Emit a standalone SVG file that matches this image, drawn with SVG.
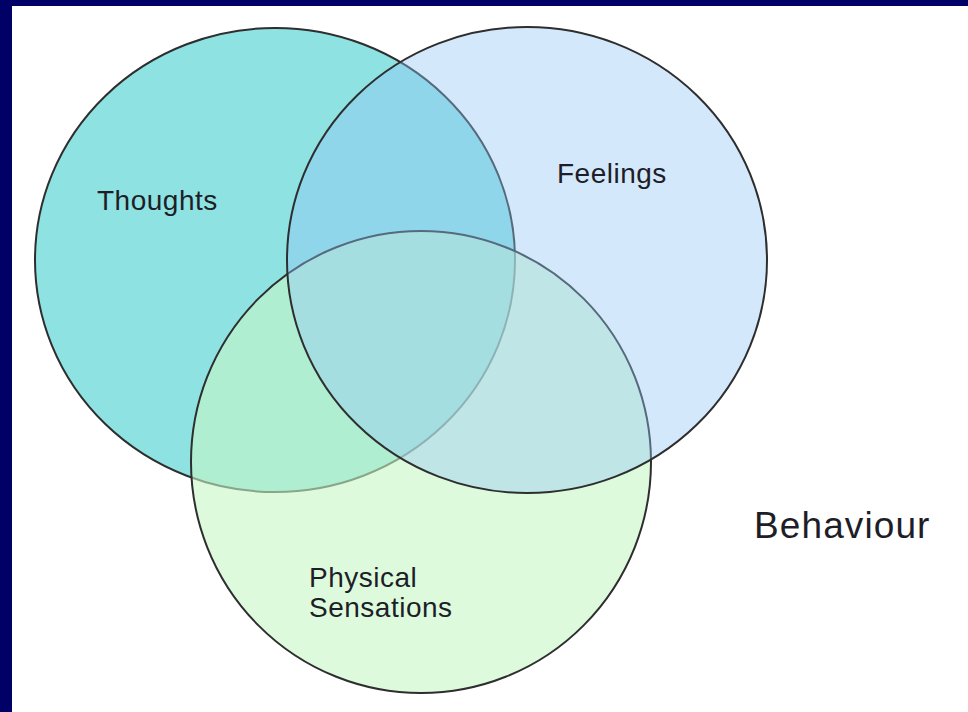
<svg xmlns="http://www.w3.org/2000/svg" width="968" height="712" viewBox="0 0 968 712">
  <style>
    .set { stroke: #2e2e2e; stroke-width: 2; }
    .label { font-family: "Liberation Sans", Arial, sans-serif; fill: #1e1e28; font-size: 28px; letter-spacing: 0.5px; }
    .big { font-size: 37px; letter-spacing: 1.1px; }
  </style>
  <!-- frame -->
  <rect x="0" y="0" width="968" height="712" fill="#ffffff"/>
  <rect x="0" y="0" width="968" height="6" fill="#000066"/>
  <rect x="0" y="0" width="12" height="712" fill="#000066"/>

  <g id="thoughts">
    <ellipse class="set" cx="275" cy="260" rx="240" ry="232" fill="#8ee2e2"/>
  </g>
  <g id="physical-sensations">
    <ellipse class="set" cx="421" cy="462" rx="230" ry="231" fill="#c6f7c6" fill-opacity="0.6"/>
  </g>
  <g id="feelings">
    <ellipse class="set" cx="527" cy="260" rx="240" ry="233" fill="#93c5f7" fill-opacity="0.4"/>
  </g>

  <g id="labels">
    <text class="label" x="97" y="210">Thoughts</text>
    <text class="label" x="557" y="183">Feelings</text>
    <text class="label" x="309" y="587">Physical</text>
    <text class="label" x="309" y="617">Sensations</text>
    <text class="label big" x="754" y="538">Behaviour</text>
  </g>
</svg>
